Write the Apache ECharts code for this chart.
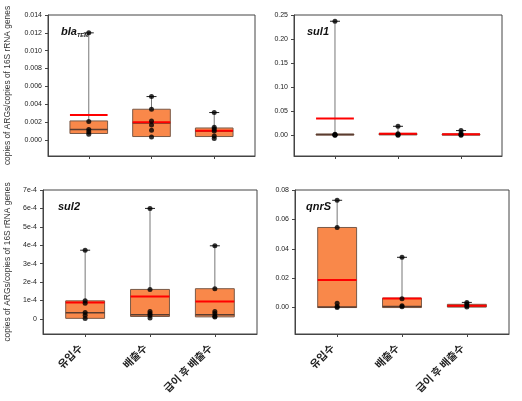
<!DOCTYPE html>
<html><head><meta charset="utf-8">
<script src="https://cdn.jsdelivr.net/npm/echarts@6/dist/echarts.min.js"></script>
<style>html,body{margin:0;padding:0;background:#fff}#c{width:522px;height:401px}</style>
</head><body><div id="c"></div>
<script>
const categories = ['유입수', '배출수', '급이 후 배출수'];
const yAxisName = 'copies of ARGs/copies of 16S rRNA genes';

// blaTEM
const blaQ1 = [0.00072, 0.00038, 0.00038];
const blaMed = [0.00116, 0.0019, 0.0010];
const blaQ3 = [0.00213, 0.00344, 0.00134];
const blaMean = [0.0028, 0.00198, 0.00104];
const blaMin = [0.00064, 0.00034, 0.00016];
const blaMax = [0.0120, 0.00486, 0.00307];
const blaPoints = [[0.0120, 0.00206, 0.00116, 0.0009, 0.00064], [0.00486, 0.00344, 0.00213, 0.00168, 0.00109, 0.00034], [0.00307, 0.00142, 0.00123, 0.0010, 0.00045, 0.00016]];
const blaTicks = [0, 0.002, 0.004, 0.006, 0.008, 0.010, 0.012, 0.014];

// sul1
const sul1Q1 = [0.0005, 0.0008, 0.0008];
const sul1Med = [0.0018, 0.002, 0.0015];
const sul1Q3 = [0.0025, 0.004, 0.0025];
const sul1Mean = [0.035, 0.003, 0.0022];
const sul1Min = [0.0002, 0.0003, 0.0003];
const sul1Max = [0.237, 0.0187, 0.0098];
const sul1Points = [[0.237, 0.002, 0.001, 0.0005, 0.0002], [0.0187, 0.003, 0.001, 0.0003], [0.0098, 0.004, 0.001, 0.0003]];
const sul1Ticks = [0, 0.05, 0.10, 0.15, 0.20, 0.25];

// sul2
const sul2Q1 = [0.000003, 0.000013, 0.000011];
const sul2Med = [0.000033, 0.000022, 0.000022];
const sul2Q3 = [0.000098, 0.00016, 0.000164];
const sul2Mean = [0.000089, 0.000122, 0.000095];
const sul2Min = [0.000002, 0.000005, 0.00001];
const sul2Max = [0.000373, 0.0006, 0.000397];
const sul2Points = [[0.000373, 0.000098, 0.000085, 0.000035, 0.00002, 0.000002], [0.0006, 0.00016, 0.00004, 0.00003, 0.00002, 0.000005], [0.000397, 0.000164, 0.00004, 0.00003, 0.000015, 0.00001]];
const sul2Ticks = [0, 0.0001, 0.0002, 0.0003, 0.0004, 0.0005, 0.0006, 0.0007];
const sul2TickLabels = ['0', '1e-4', '2e-4', '3e-4', '4e-4', '5e-4', '6e-4', '7e-4'];

// qnrS
const qnrQ1 = [0.0, 0.0, 0.0003];
const qnrMed = [0.0003, 0.0008, 0.001];
const qnrQ3 = [0.0545, 0.0064, 0.0022];
const qnrMean = [0.0188, 0.0062, 0.0012];
const qnrMin = [0.0, 0.0, 0.0002];
const qnrMax = [0.073, 0.0342, 0.0035];
const qnrPoints = [[0.073, 0.0545, 0.003, 0.0008, 0.0], [0.0342, 0.006, 0.0012, 0.0005], [0.0035, 0.0025, 0.0012, 0.0003]];
const qnrTicks = [0, 0.02, 0.04, 0.06, 0.08];

const panels = [
  {q1: blaQ1, med: blaMed, q3: blaQ3, mean: blaMean, mn: blaMin, mx: blaMax, pts: blaPoints, ticks: blaTicks, fmt: v => v.toFixed(3), ymin: -0.0018, ymax: 0.014, grid: {left: 48, top: 15, width: 207, height: 141}, name: true, xlabels: false},
  {q1: sul1Q1, med: sul1Med, q3: sul1Q3, mean: sul1Mean, mn: sul1Min, mx: sul1Max, pts: sul1Points, ticks: sul1Ticks, fmt: v => v.toFixed(2), ymin: -0.043, ymax: 0.25, grid: {left: 294, top: 15, width: 208, height: 141}, name: false, xlabels: false},
  {q1: sul2Q1, med: sul2Med, q3: sul2Q3, mean: sul2Mean, mn: sul2Min, mx: sul2Max, pts: sul2Points, ticks: sul2Ticks, fmt: v => sul2TickLabels[Math.round(v * 10000)], ymin: -0.000082, ymax: 0.0007, grid: {left: 43, top: 190, width: 214, height: 144}, name: true, xlabels: true},
  {q1: qnrQ1, med: qnrMed, q3: qnrQ3, mean: qnrMean, mn: qnrMin, mx: qnrMax, pts: qnrPoints, ticks: qnrTicks, fmt: v => v.toFixed(2), ymin: -0.018, ymax: 0.08, grid: {left: 295, top: 190, width: 214, height: 144}, name: false, xlabels: true}
];

const FONT = 'Liberation Sans, Arial, sans-serif';
const grids = [], xAxes = [], yAxes = [], series = [];

function renderBox(params, api) {
  const x = api.value(0), q1 = api.value(1), med = api.value(2), q3 = api.value(3), mean = api.value(4), mn = api.value(5), mx = api.value(6);
  const half = api.size([0.6, 0])[0] / 2;
  const pQ1 = api.coord([x, q1]), pQ3 = api.coord([x, q3]), pMed = api.coord([x, med]);
  const pMean = api.coord([x, mean]), pMin = api.coord([x, mn]), pMax = api.coord([x, mx]);
  const cx = pQ1[0];
  const wh = {stroke: '#777', lineWidth: 1};
  return {type: 'group', children: [
    {type: 'line', shape: {x1: cx, y1: pQ3[1], x2: cx, y2: pMax[1]}, style: wh},
    {type: 'line', shape: {x1: cx - 5, y1: pMax[1], x2: cx + 5, y2: pMax[1]}, style: {stroke: '#222', lineWidth: 1}},
    {type: 'line', shape: {x1: cx, y1: pMin[1], x2: cx, y2: pQ1[1]}, style: wh},
    {type: 'rect', shape: {x: cx - half, y: pQ3[1], width: 2 * half, height: Math.max(pQ1[1] - pQ3[1], 1)}, style: {fill: '#F9884A', stroke: '#7a5a48', lineWidth: 1}},
    {type: 'line', shape: {x1: cx - half, y1: pMed[1], x2: cx + half, y2: pMed[1]}, style: {stroke: '#5a3c30', lineWidth: 1.5}},
    {type: 'line', shape: {x1: cx - half, y1: pMean[1], x2: cx + half, y2: pMean[1]}, style: {stroke: '#F00', lineWidth: 2}}
  ]};
}

panels.forEach((p, i) => {
  grids.push(Object.assign({show: true, borderColor: '#444', borderWidth: 1, backgroundColor: 'transparent'}, p.grid));
  xAxes.push({
    type: 'value', gridIndex: i, min: 0.35, max: 3.65, position: 'bottom',
    splitLine: {show: false},
    axisLine: {show: true, onZero: false, lineStyle: {color: '#444'}},
    axisTick: {show: true, length: 3, customValues: [1, 2, 3], lineStyle: {color: '#444'}},
    axisLabel: {show: p.xlabels, customValues: [1, 2, 3], rotate: 45, margin: 7, padding: [0, 7, 0, 0],
      formatter: v => categories[Math.round(v) - 1], fontFamily: 'Noto Sans CJK KR', fontWeight: 'bold', fontSize: 10.5, color: '#222'}
  });
  yAxes.push({
    type: 'value', gridIndex: i, min: p.ymin, max: p.ymax, position: 'left',
    splitLine: {show: false},
    axisLine: {show: true, onZero: false, lineStyle: {color: '#444'}},
    axisTick: {show: true, length: 3, customValues: p.ticks, lineStyle: {color: '#444'}},
    axisLabel: {customValues: p.ticks, formatter: p.fmt, fontSize: 7, fontFamily: FONT, color: '#222', margin: 6},
    name: p.name ? yAxisName : '', nameLocation: 'middle', nameRotate: 90,
    nameGap: i === 0 ? 36 : 31,
    nameTextStyle: {fontSize: 8.4, fontFamily: FONT, color: '#333'}
  });
  const boxData = [0, 1, 2].map(k => [k + 1, p.q1[k], p.med[k], p.q3[k], p.mean[k], p.mn[k], p.mx[k]]);
  series.push({type: 'custom', xAxisIndex: i, yAxisIndex: i, renderItem: renderBox, data: boxData, z: 2});
  const pts = [];
  p.pts.forEach((arr, k) => arr.forEach(v => pts.push([k + 1, v])));
  series.push({type: 'scatter', xAxisIndex: i, yAxisIndex: i, data: pts, symbolSize: 5, itemStyle: {color: '#000'}, z: 5, silent: true});
});

const titleStyle = {fontFamily: FONT, fontStyle: 'italic', fontWeight: 'bold', fontSize: 11, color: '#111'};
const titles = [
  {text: '{a|bla}{b|TEM}', left: 56, top: 21, textStyle: {rich: {a: titleStyle, b: Object.assign({}, titleStyle, {fontSize: 5.5, padding: [6, 0, 0, 0]})}}},
  {text: 'sul1', left: 302, top: 21, textStyle: titleStyle},
  {text: 'sul2', left: 53, top: 196, textStyle: titleStyle},
  {text: 'qnrS', left: 301, top: 196, textStyle: titleStyle}
];

const chart = echarts.init(document.getElementById('c'), null, {renderer: 'canvas'});
chart.setOption({
  animation: false,
  title: titles,
  grid: grids,
  xAxis: xAxes,
  yAxis: yAxes,
  series: series
});
</script></body></html>
